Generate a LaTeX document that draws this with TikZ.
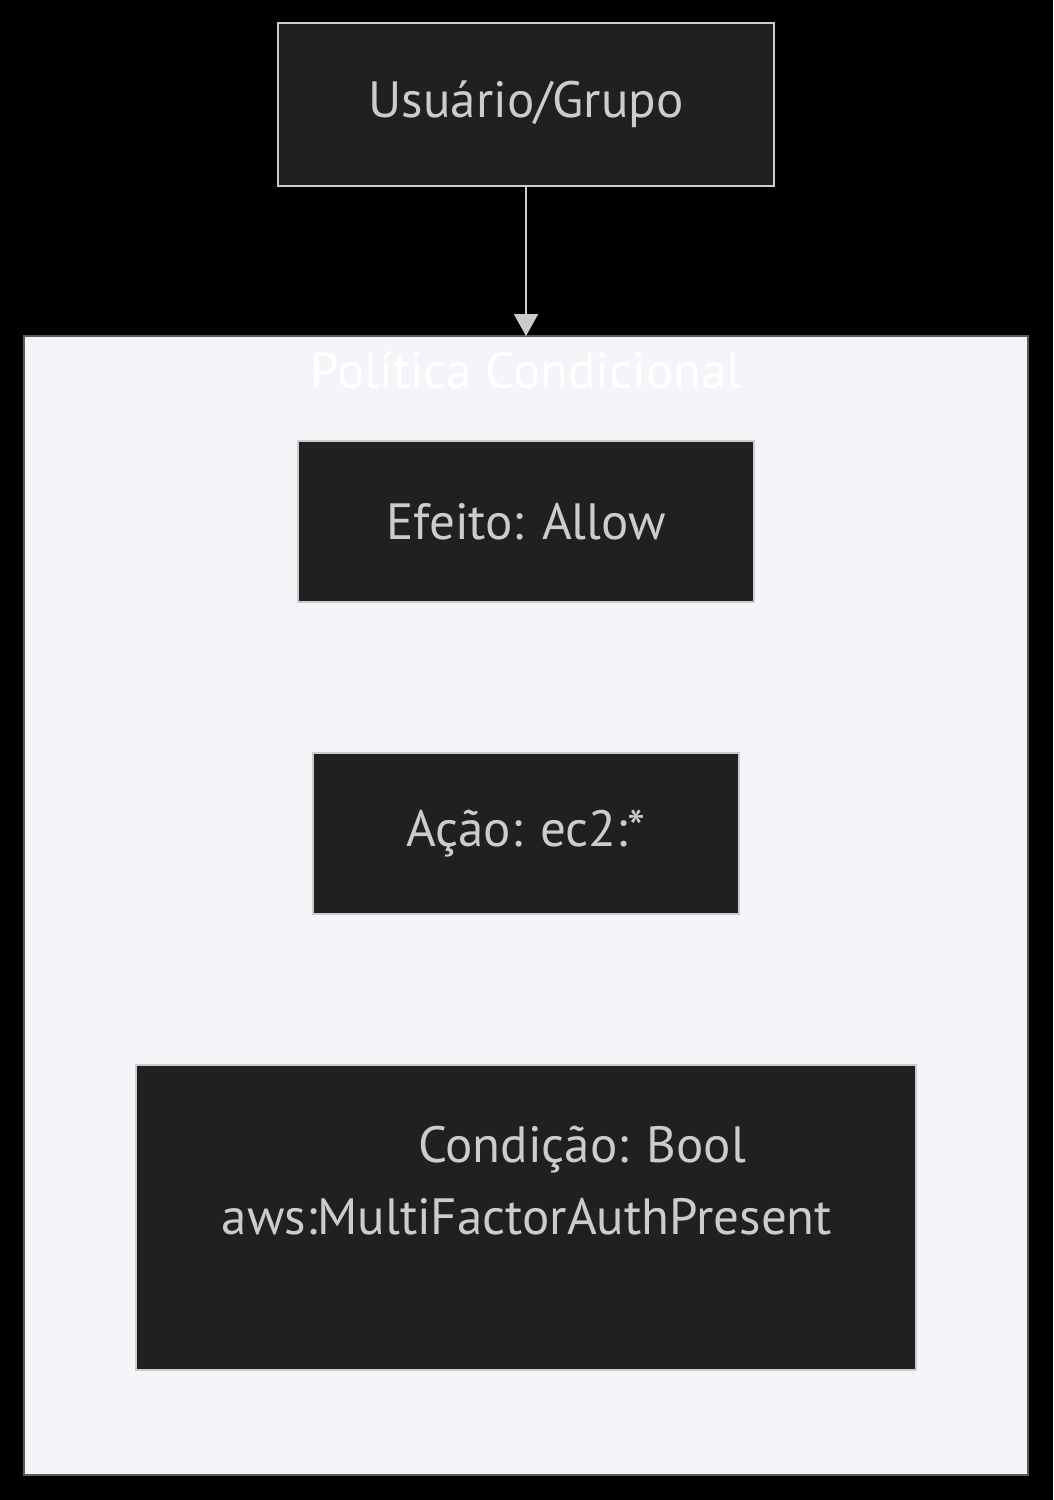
\documentclass[tikz,border=0pt]{standalone}
\usepackage{fontspec}
\setmainfont{PT Sans}
\usetikzlibrary{positioning,arrows.meta}
\definecolor{nodefill}{HTML}{1F2020}
\definecolor{nodeline}{HTML}{CCCCCC}
\definecolor{nodetext}{HTML}{CCCCCC}
\definecolor{clusterfill}{HTML}{F4F5F9}
\definecolor{clusterline}{HTML}{5A5A5A}
\tikzset{
  box/.style={draw=nodeline, fill=nodefill, line width=2pt, text=nodetext,
    font=\fontsize{51}{72}\selectfont, inner sep=0pt},
  link/.style={draw=nodeline, line width=2pt, -{Triangle[width=24pt,length=22pt]}}
}
\begin{document}
\begin{tikzpicture}[x=1pt, y=-1pt, node distance=149pt]
  \fill[black] (0,0) rectangle (1053,1500);
  \useasboundingbox (0,0) rectangle (1053,1500);
  \draw[clusterline, fill=clusterfill, line width=2pt] (24,336) rectangle (1028,1475);
  \node[text=white!97!clusterfill, font=\fontsize{51}{56}\selectfont] (pol) at (526,370) {Política Condicional};

  \node[box, minimum width=496pt, minimum height=163pt] (user) at (526,104.5) {Usuário/Grupo};
  \node[box, minimum width=456pt, minimum height=161pt] (efeito) at (526,521.5) {Efeito: Allow};
  \node[box, minimum width=426pt, minimum height=161pt, below=of efeito] (acao) {Ação: ec2:*};
  \node[box, minimum width=780pt, minimum height=305pt, below=of acao] (cond) {};
  \node[text=nodetext, font=\fontsize{51}{72}\selectfont, align=center] (condtxt) at (527,1181)
    {\hspace*{110pt}Condição: Bool\\aws:MultiFactorAuthPresent};

  \coordinate (top) at (526,336);
  \draw[link] (user) -- (top);
\end{tikzpicture}
\end{document}
